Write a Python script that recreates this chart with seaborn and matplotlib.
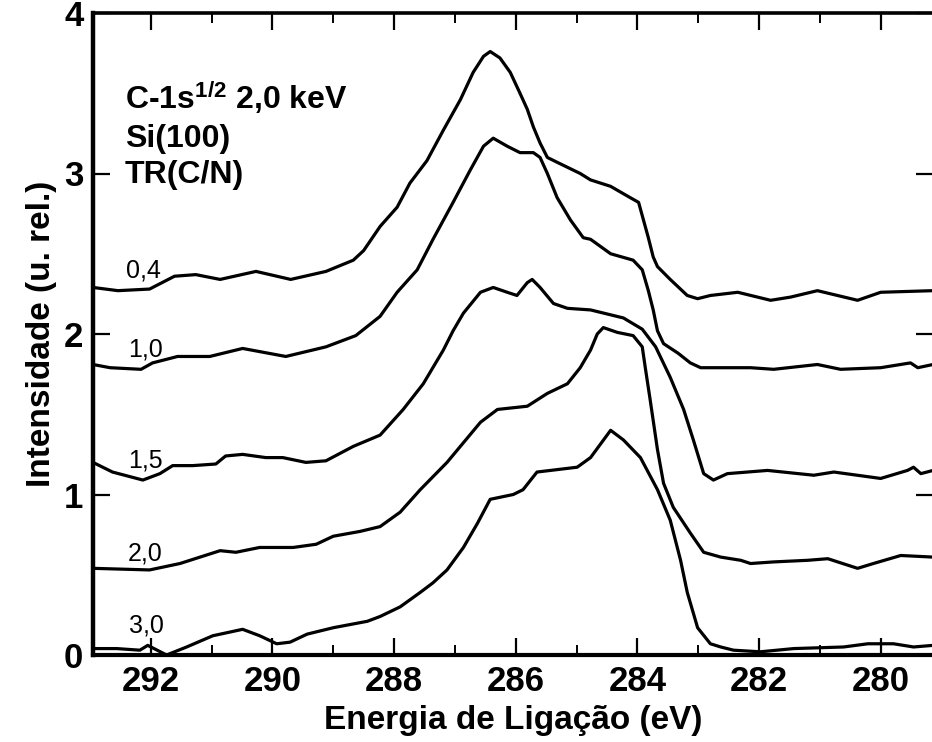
import matplotlib
matplotlib.use("Agg")
import matplotlib.pyplot as plt
import numpy as np
import pandas as pd
import seaborn as sns
from matplotlib.ticker import MultipleLocator

# ---- data (binding energy in eV, intensity in rel. units) ----
x04 = [292.95, 292.54, 292.02, 291.61, 291.26, 290.86, 290.27, 289.70, 289.12, 288.67,
       288.50, 288.23, 287.95, 287.74, 287.46, 287.19, 286.91, 286.70, 286.53, 286.42,
       286.26, 286.09, 285.93, 285.81, 285.71, 285.60, 285.48, 285.32, 284.94, 284.77,
       284.44, 284.12, 283.98, 283.90, 283.82, 283.74, 283.67, 283.46, 283.18, 283.01,
       282.80, 282.35, 281.81, 281.48, 281.04, 280.38, 280.00, 279.14]
y04 = [2.29, 2.27, 2.28, 2.36, 2.37, 2.34, 2.39, 2.34, 2.39, 2.46,
       2.52, 2.67, 2.79, 2.94, 3.08, 3.27, 3.46, 3.63, 3.73, 3.76,
       3.72, 3.63, 3.50, 3.40, 3.29, 3.19, 3.10, 3.07, 3.00, 2.96,
       2.92, 2.85, 2.82, 2.71, 2.60, 2.48, 2.42, 2.34, 2.24, 2.22,
       2.24, 2.26, 2.21, 2.23, 2.27, 2.21, 2.26, 2.27]

x10 = [292.95, 292.67, 292.16, 291.97, 291.56, 291.03, 290.49, 289.78, 289.12, 288.63,
       288.23, 287.95, 287.62, 287.36, 287.03, 286.75, 286.53, 286.37, 286.14, 285.93,
       285.71, 285.60, 285.48, 285.32, 285.10, 284.89, 284.77, 284.44, 284.07, 283.92,
       283.82, 283.74, 283.67, 283.57, 283.33, 283.13, 282.96, 282.63, 282.14, 281.76,
       281.04, 280.66, 280.00, 279.51, 279.39, 279.14]
y10 = [1.81, 1.79, 1.78, 1.82, 1.86, 1.86, 1.91, 1.86, 1.92, 1.99,
       2.11, 2.26, 2.40, 2.59, 2.82, 3.02, 3.17, 3.22, 3.17, 3.13,
       3.13, 3.10, 3.00, 2.85, 2.71, 2.60, 2.59, 2.50, 2.46, 2.40,
       2.27, 2.15, 2.02, 1.94, 1.88, 1.82, 1.79, 1.79, 1.79, 1.78,
       1.81, 1.78, 1.79, 1.82, 1.79, 1.81]

x15 = [292.95, 292.63, 292.13, 291.85, 291.64, 291.31, 290.93, 290.77, 290.49, 290.11,
       289.83, 289.45, 289.12, 288.67, 288.23, 287.85, 287.52, 287.19, 287.03, 286.86,
       286.58, 286.37, 286.14, 285.98, 285.81, 285.73, 285.60, 285.38, 285.15, 284.77,
       284.23, 283.92, 283.70, 283.46, 283.24, 283.08, 282.91, 282.75, 282.52, 281.86,
       281.10, 280.77, 280.00, 279.56, 279.46, 279.34, 279.14]
y15 = [1.20, 1.14, 1.09, 1.13, 1.18, 1.18, 1.19, 1.24, 1.25, 1.23,
       1.23, 1.20, 1.21, 1.30, 1.37, 1.53, 1.69, 1.90, 2.02, 2.13,
       2.26, 2.29, 2.26, 2.24, 2.32, 2.34, 2.29, 2.19, 2.16, 2.15,
       2.10, 2.03, 1.92, 1.73, 1.53, 1.34, 1.13, 1.09, 1.13, 1.15,
       1.12, 1.14, 1.10, 1.15, 1.17, 1.13, 1.15]

x20 = [292.95, 292.02, 291.52, 291.19, 290.86, 290.60, 290.21, 289.66, 289.28, 289.00,
       288.56, 288.23, 287.90, 287.57, 287.13, 286.58, 286.30, 285.81, 285.48, 285.15,
       284.94, 284.77, 284.66, 284.56, 284.33, 284.07, 283.92, 283.87, 283.79, 283.67,
       283.57, 283.41, 283.13, 282.91, 282.63, 282.30, 282.14, 281.76, 281.20, 280.87,
       280.38, 280.12, 279.67, 279.14]
y20 = [0.54, 0.53, 0.57, 0.61, 0.65, 0.64, 0.67, 0.67, 0.69, 0.74,
       0.77, 0.80, 0.89, 1.03, 1.20, 1.45, 1.53, 1.55, 1.63, 1.69,
       1.79, 1.90, 2.00, 2.04, 2.01, 1.99, 1.92, 1.79, 1.59, 1.28,
       1.07, 0.92, 0.76, 0.64, 0.61, 0.59, 0.57, 0.58, 0.59, 0.60,
       0.54, 0.57, 0.62, 0.61]

x30 = [292.95, 292.56, 292.18, 292.05, 291.74, 291.41, 290.98, 290.49, 290.21, 289.93,
       289.71, 289.43, 289.00, 288.44, 288.23, 287.90, 287.57, 287.36, 287.13, 286.86,
       286.63, 286.42, 286.04, 285.88, 285.65, 284.99, 284.77, 284.44, 284.23, 283.95,
       283.67, 283.46, 283.29, 283.18, 283.01, 282.80, 282.63, 282.42, 281.98, 281.43,
       280.61, 280.21, 279.79, 279.46, 279.14]
y30 = [0.04, 0.04, 0.03, 0.06, 0.00, 0.05, 0.12, 0.16, 0.12, 0.07,
       0.08, 0.13, 0.17, 0.21, 0.24, 0.30, 0.39, 0.45, 0.53, 0.67,
       0.82, 0.97, 1.00, 1.03, 1.14, 1.17, 1.23, 1.40, 1.34, 1.23,
       1.03, 0.84, 0.59, 0.39, 0.17, 0.07, 0.05, 0.03, 0.02, 0.04,
       0.05, 0.07, 0.07, 0.05, 0.06]

curve_labels = ["0,4", "1,0", "1,5", "2,0", "3,0"]
label_x = [292.41, 292.38, 292.38, 292.38, 292.36]
label_y = [2.35, 1.86, 1.17, 0.59, 0.14]

info_lines = ["C-1s$^{1/2}$ 2,0 keV", "Si(100)", "TR(C/N)"]
info_x = 292.43
info_y = [3.40, 3.165, 2.94]

xticks = [292, 290, 288, 286, 284, 282, 280]
yticks = [0, 1, 2, 3, 4]

# ---- style ----
sns.set_style("ticks")
plt.rcParams['font.family'] = ['Liberation Sans', 'DejaVu Sans']
plt.rcParams['font.weight'] = 'bold'
plt.rcParams['axes.labelweight'] = 'bold'
plt.rcParams['text.color'] = 'black'
plt.rcParams['axes.labelcolor'] = 'black'
plt.rcParams['xtick.color'] = 'black'
plt.rcParams['ytick.color'] = 'black'
plt.rcParams['mathtext.fontset'] = 'custom'
plt.rcParams['mathtext.rm'] = 'Liberation Sans:bold'
plt.rcParams['mathtext.it'] = 'Liberation Sans:bold'
plt.rcParams['mathtext.bf'] = 'Liberation Sans:bold'

fig = plt.figure(figsize=(9.32, 7.42), dpi=100)
ax = fig.add_axes([93 / 932, 1 - 655 / 742, (933 - 93) / 932, (655 - 13) / 742])

series = [(x04, y04), (x10, y10), (x15, y15), (x20, y20), (x30, y30)]
for xs, ys in series:
    df = pd.DataFrame({"E": xs, "I": ys})
    sns.lineplot(data=df, x="E", y="I", ax=ax, color="black", lw=2.3,
                 sort=False, estimator=None)

ax.set_xlim(292.95, 279.14)
ax.set_ylim(0, 4.0)
ax.set_xticks(xticks)
ax.set_yticks(yticks)
ax.xaxis.set_minor_locator(MultipleLocator(1))

ax.tick_params(which='both', direction='in', top=True, right=True,
               colors='black', labelcolor='black')
ax.tick_params(which='major', length=12, width=1.6, labelsize=25, pad=7)
ax.tick_params(which='minor', length=7, width=1.4)
for lbl in ax.get_xticklabels() + ax.get_yticklabels():
    lbl.set_fontweight('bold')

for side, lw in [('left', 3.2), ('bottom', 3.0), ('top', 2.6), ('right', 2.6)]:
    ax.spines[side].set_linewidth(lw)
    ax.spines[side].set_color('black')
    ax.spines[side].set_visible(True)

ax.set_xlabel("Energia de Ligação (eV)", fontsize=24, fontweight='bold',
              labelpad=5, color='black')
ax.set_ylabel("Intensidade (u. rel.)", fontsize=24, fontweight='bold',
              labelpad=5, color='black')

for t, lx, ly in zip(curve_labels, label_x, label_y):
    ax.text(lx, ly, t, fontsize=18, fontweight='normal', va='baseline',
            ha='left', color='black')

for t, iy in zip(info_lines, info_y):
    ax.text(info_x, iy, t, fontsize=23, fontweight='bold', va='baseline',
            ha='left', color='black')

fig.savefig("out.png", dpi=100)
